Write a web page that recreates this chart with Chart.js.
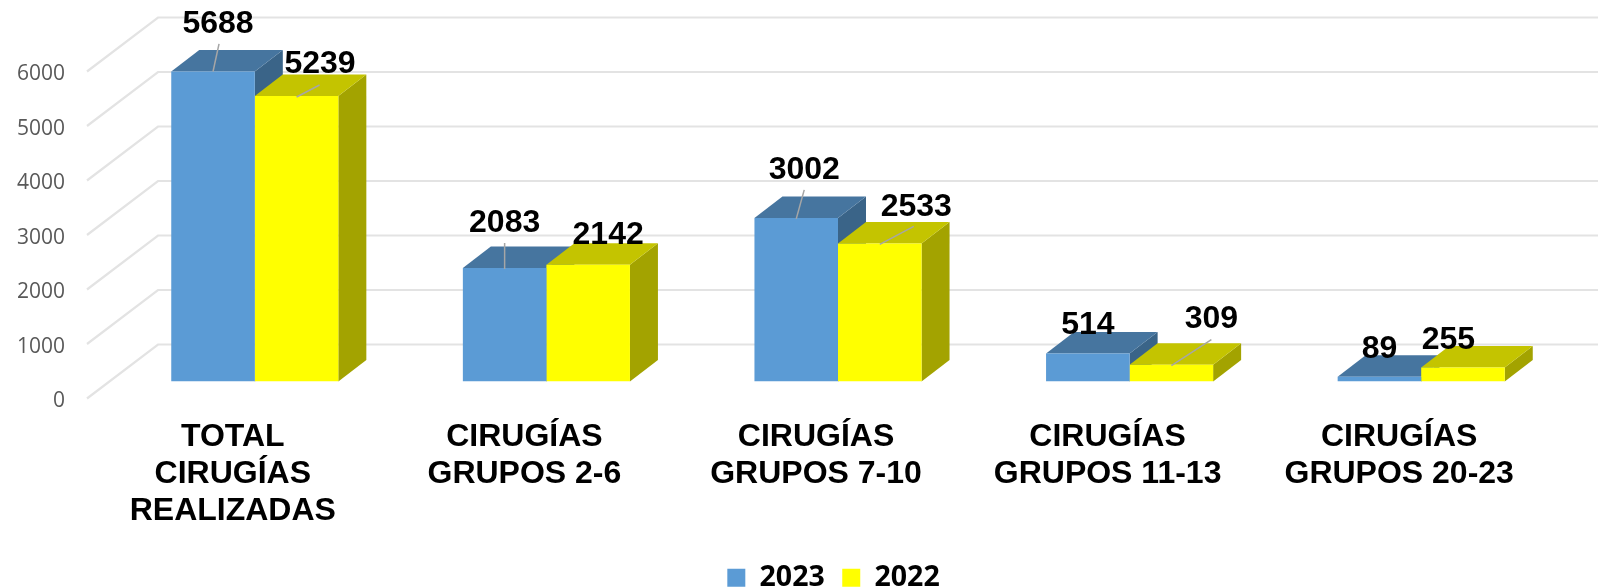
<!DOCTYPE html>
<html><head><meta charset="utf-8">
<style>html,body{margin:0;padding:0;background:#fff;overflow:hidden}canvas{display:block}</style>
<script src="https://cdn.jsdelivr.net/npm/chart.js@4"></script>
</head><body><canvas id="c" width="1598" height="587"></canvas>
<script>
const categories = [['TOTAL','CIRUGÍAS','REALIZADAS'],['CIRUGÍAS','GRUPOS 2-6'],['CIRUGÍAS','GRUPOS 7-10'],['CIRUGÍAS','GRUPOS 11-13'],['CIRUGÍAS','GRUPOS 20-23']];
const values2023 = [5688,2083,3002,514,89];
const values2022 = [5239,2142,2533,309,255];
const yTicks = [0,1000,2000,3000,4000,5000,6000];

const labelShift = [
  [[5,-48.6],[0,-46],[8,-49],[0,-29],[0,-28]],
  [[23.5,-33],[20,-30.5],[36.5,-37],[40,-46],[-14.5,-28]]
];
const leaders = [
  [[0,0,6,-27.6],[0,1,0,-25],[0,1,8,-28],null,null],
  [[0,1,23,-11],null,[0,1,34,-17],[0,1,40,-25],null]
];
const faces = [
  {top:'#46759F',side:'#3A6488'},
  {top:'#C4C400',side:'#A3A300'}
];
const depth = {x:28,y:21.5};
const wall = {front:{x:-22,y:17},back:{x:49,y:-37}};
const labelFont = 'bold 32px "Liberation Sans"';
const legendShift = 50;

const poly = (ctx,pts,fill)=>{
  ctx.fillStyle=fill;ctx.beginPath();
  pts.forEach((p,i)=>i?ctx.lineTo(p[0],p[1]):ctx.moveTo(p[0],p[1]));
  ctx.closePath();ctx.fill();
};

const threeD = {
  id:'threeD',
  afterLayout(chart){
    chart.legend.left+=legendShift;chart.legend.right+=legendShift;
  },
  beforeDatasetsDraw(chart){
    const {ctx,chartArea:a,scales:{y}} = chart;
    ctx.save();
    ctx.strokeStyle='#E3E3E3';ctx.lineWidth=2.2;
    yTicks.forEach(v=>{
      const py=y.getPixelForValue(v);
      ctx.beginPath();
      ctx.moveTo(a.left+wall.front.x,py+wall.front.y);
      ctx.lineTo(a.left+wall.back.x,py+wall.back.y);
      ctx.lineTo(chart.width,py+wall.back.y);
      ctx.stroke();
    });
    chart.data.datasets.forEach((d,di)=>{
      chart.getDatasetMeta(di).data.forEach(el=>{
        const l=el.x-el.width/2,r=el.x+el.width/2,t=el.y,b=el.base;
        poly(ctx,[[r,t],[r+depth.x,t-depth.y],[r+depth.x,b-depth.y],[r,b]],faces[di].side);
        poly(ctx,[[l,t],[l+depth.x,t-depth.y],[r+depth.x,t-depth.y],[r,t]],faces[di].top);
      });
    });
    ctx.restore();
  },
  afterDatasetsDraw(chart){
    const {ctx} = chart;
    ctx.save();
    chart.data.datasets.forEach((d,di)=>{
      chart.getDatasetMeta(di).data.forEach((el,i)=>{
        const ln=leaders[di][i];
        if(ln){
          ctx.strokeStyle='#A6A6A6';ctx.lineWidth=1.5;ctx.beginPath();
          ctx.moveTo(el.x+ln[0],el.y+ln[1]);ctx.lineTo(el.x+ln[2],el.y+ln[3]);ctx.stroke();
        }
      });
    });
    ctx.font=labelFont;ctx.fillStyle='#000';ctx.textAlign='center';ctx.textBaseline='middle';
    chart.data.datasets.forEach((d,di)=>{
      chart.getDatasetMeta(di).data.forEach((el,i)=>{
        const s=labelShift[di][i];
        ctx.fillText(String(d.data[i]),el.x+s[0],el.y+s[1]+1);
      });
    });
    ctx.restore();
  }
};

new Chart(document.getElementById('c'),{
  type:'bar',
  data:{labels:categories,datasets:[
    {label:'2023',data:values2023,backgroundColor:'#5B9BD5'},
    {label:'2022',data:values2022,backgroundColor:'#FFFF00'}
  ]},
  plugins:[threeD],
  options:{
    responsive:false,animation:false,
    layout:{padding:{top:54.5,right:31,left:0,bottom:-15}},
    categoryPercentage:0.573,barPercentage:1,
    scales:{
      x:{
        grid:{display:false},border:{display:false},
        afterFit(s){s.height=164.5;s.paddingTop=0;s.paddingBottom=0;},
        ticks:{autoSkip:false,maxRotation:0,minRotation:0,padding:29,labelOffset:-22,color:'#000',
          font:{family:'"Liberation Sans"',weight:'bold',size:32,lineHeight:1.16}}
      },
      y:{
        min:0,max:6000,
        grid:{display:false,drawTicks:false},border:{display:false},
        afterFit(s){s.width=109;s.paddingTop=0;s.paddingBottom=0;},
        afterBuildTicks(s){s.ticks=yTicks.map(v=>({value:v}));},
        ticks:{padding:44,labelOffset:20,color:'#595959',font:{family:'"Open Sans"',size:21},callback:v=>String(v)}
      }
    },
    plugins:{
      tooltip:{enabled:false},
      legend:{position:'bottom',labels:{boxWidth:18,boxHeight:18,padding:17.5,color:'#000',
        font:{family:'"Open Sans"',weight:'bold',size:28.5,lineHeight:1}}}
    }
  }
});
</script></body></html>
